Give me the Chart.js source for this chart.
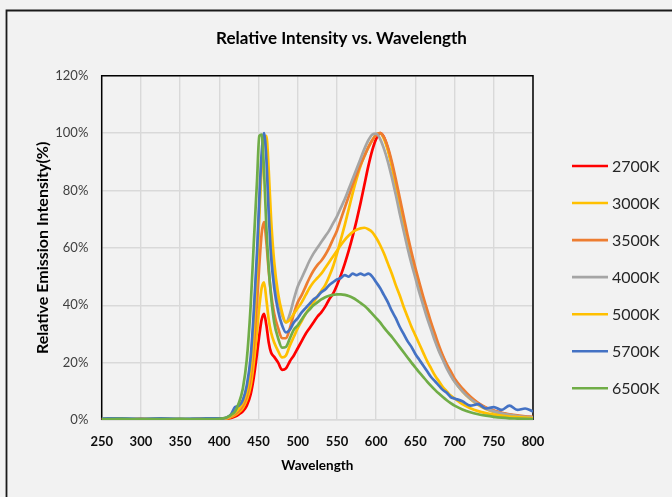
<!DOCTYPE html>
<html>
<head>
<meta charset="utf-8">
<script src="https://cdn.jsdelivr.net/npm/chart.js@4.4.0/dist/chart.umd.min.js"></script>
<style>
  html, body { margin: 0; padding: 0; background: #f2f2f2; }
  #wrap { width: 672px; height: 497px; }
</style>
</head>
<body>
<div id="wrap"><canvas id="spectrum" width="672" height="497"></canvas></div>
<script>
// shared wavelength grid (nm)
const wavelengths = [
  250, 275, 300, 325, 350, 375, 400,
  405, 410, 415, 420, 425, 430, 435, 440, 444, 448, 451, 454, 457, 460, 463, 466, 470, 475, 480, 485, 490, 495,
  500, 505, 510, 515, 520, 525, 530, 535, 540, 545, 550, 555, 560, 565, 570, 575, 580, 585, 590, 595,
  600, 605, 610, 615, 620, 625, 630, 635, 640, 645, 650, 655, 660, 665, 670, 675, 680, 685, 690, 695, 700,
  710, 720, 730, 740, 750, 760, 770, 780, 790, 800
];

// relative intensity (%) per CCT
const cct2700 = [
  0.2, 0.2, 0.3, 0.2, 0.2, 0.3, 0.2,
  0.2, 0.4, 0.7, 1.2, 2, 3, 5, 9, 15, 23, 29.5, 35, 37, 33, 27, 23.5, 22, 20, 17.5, 18, 20.5, 22.5,
  25, 27.5, 30, 32, 34, 36, 37.5, 39.5, 42, 44, 47, 50.5, 54.5, 59, 64, 69.5, 75.5, 82, 88.5, 94,
  98, 100, 98.5, 94.5, 89, 82.5, 75.5, 69, 62.5, 57, 52, 47, 42, 37.5, 33, 29, 25, 22, 19, 16.5, 14,
  10.5, 7.8, 5.8, 4.2, 3.2, 2.4, 1.8, 1.4, 1.1, 0.9
];
const cct3000 = [
  0.2, 0.3, 0.2, 0.3, 0.2, 0.2, 0.3,
  0.3, 0.5, 1, 1.7, 2.7, 4.2, 7, 12, 20, 31, 39.5, 46, 48, 42, 35, 30.5, 27, 24, 21.8, 22.5, 26, 29,
  32, 34.5, 37, 39, 41, 43, 45, 47, 50, 53.5, 58, 63, 68, 73.5, 79, 84, 88.5, 92, 95, 97.5,
  99.5, 100, 98, 94, 88.5, 82, 75, 68.5, 62, 56.5, 51.5, 46.5, 41.5, 37, 32.5, 28.5, 24.5, 21.5, 18.5, 16, 13.5,
  10, 7.3, 5.3, 3.8, 2.8, 2, 1.5, 1.1, 0.8, 0.6
];
const cct3500 = [
  0.3, 0.2, 0.3, 0.2, 0.3, 0.2, 0.3,
  0.3, 0.6, 1.2, 2, 3.2, 5, 8.5, 15, 26, 41, 54, 65, 69, 62, 52, 44, 37, 32, 28.5, 28.5, 32, 37,
  41, 43.5, 46.5, 49.5, 52, 54, 55.5, 57.5, 60, 63, 66, 70, 74, 78, 82, 85.5, 89, 92, 95, 97.5,
  99.3, 100, 98.5, 95, 90, 84, 77.5, 71, 64.5, 58.5, 53, 48, 43, 38.5, 34, 30, 26, 22.5, 19.5, 17, 14.5,
  11, 8.2, 6, 4.4, 3.3, 2.5, 2, 1.6, 1.3, 1.1
];
const cct4000 = [
  0.3, 0.3, 0.2, 0.3, 0.3, 0.2, 0.3,
  0.4, 0.8, 1.5, 2.8, 4.5, 6.5, 11, 20, 35, 55, 74, 90, 98, 95, 80, 64, 51, 42, 36.5, 34, 37, 42,
  46.5, 49.5, 52.5, 55.5, 58, 60, 62, 64, 66, 68.5, 71, 74, 77, 80.5, 84, 87.5, 91, 94.5, 97.5, 99.5,
  99.8, 98, 94.5, 90, 84.5, 78.5, 72, 66, 60, 54.5, 49.5, 44.5, 40, 35.5, 31.5, 27.5, 24, 21, 18, 15.5, 13.3,
  10, 7.4, 5.5, 4, 3, 2.3, 1.8, 1.4, 1.1, 0.9
];
const cct5000 = [
  0.3, 0.2, 0.3, 0.3, 0.2, 0.3, 0.3,
  0.4, 0.8, 1.5, 2.6, 4, 6, 10, 18, 32, 52, 71, 88, 98, 99, 87, 70, 55, 44, 37.5, 34, 35, 37,
  39, 41, 43.5, 46, 48, 49.5, 51, 53, 55, 57, 59, 61, 62.8, 64.3, 65.5, 66.3, 66.8, 67, 66.5, 65.5,
  63.5, 61, 58, 54.5, 51, 47, 43.5, 39.5, 36, 32.5, 29.5, 26.5, 23.5, 20.5, 18, 15.5, 13.5, 11.5, 10, 8.5, 7.5,
  5.5, 4.1, 3.1, 2.4, 1.9, 1.5, 1.2, 1, 0.8, 0.6
];
const cct5700 = [
  0.5, 0.6, 0.4, 0.6, 0.4, 0.5, 0.6,
  0.6, 1, 2, 4.5, 5, 7, 12, 22, 38, 58, 77, 93, 100, 91, 72, 57, 46, 38, 33, 30.5, 31.5, 34,
  35.5, 37.5, 39, 40.5, 42, 43, 44.5, 45.5, 47, 48, 49, 49.5, 50.5, 50, 51, 50.5, 51, 50.5, 51, 50,
  48, 46, 43.5, 41, 38, 35.5, 32.5, 30, 27.5, 25.5, 23, 21, 19, 17, 15, 13.5, 12, 10.5, 9.5, 8, 7.5,
  6.5, 5, 5.5, 4, 4.5, 3.5, 5, 3.5, 4, 3
];
const cct6500 = [
  0.3, 0.4, 0.3, 0.3, 0.4, 0.3, 0.4,
  0.6, 1, 1.8, 3, 6, 11, 21, 40, 62, 83, 99, 99.5, 87, 67, 53, 43, 34, 28.5, 25.2, 25.5, 28.5, 31.5,
  33, 35, 37, 38.5, 40, 41, 42, 42.8, 43.3, 43.6, 43.8, 43.8, 43.6, 43.2, 42.6, 41.8, 40.8, 39.8, 38.5, 37,
  35.5, 34, 32.2, 30.5, 29, 27.2, 25.4, 23.6, 21.8, 20, 18.3, 16.6, 15, 13.4, 11.9, 10.5, 9.2, 8, 6.9, 5.9, 5,
  3.7, 2.7, 2, 1.5, 1.1, 0.8, 0.6, 0.5, 0.4, 0.3
];

const seriesLabels = ['2700K', '3000K', '3500K', '4000K', '5000K', '5700K', '6500K'];
const seriesValues = [cct2700, cct3000, cct3500, cct4000, cct5000, cct5700, cct6500];
const seriesColors = ['#ff0000', '#ffc000', '#ed7d31', '#a5a5a5', '#ffc000', '#4472c4', '#70ad47'];

const xMin = 250, xMax = 800, xStep = 50;
const yMin = 0, yMax = 120, yStep = 20;

const FONT = 'Lato';

// background + outer frame, title, plot frame and legend
const decor = {
  id: 'decor',
  beforeDraw(chart) {
    const ctx = chart.ctx;
    ctx.save();
    ctx.fillStyle = '#f2f2f2';
    ctx.fillRect(0, 0, chart.width, chart.height);
    ctx.strokeStyle = '#1a1a1a';
    ctx.lineWidth = 1.8;
    ctx.beginPath();
    ctx.moveTo(6.5, chart.height + 2);
    ctx.lineTo(6.5, 10.5);
    ctx.lineTo(chart.width + 2, 10.5);
    ctx.stroke();

    ctx.fillStyle = '#000';
    ctx.font = 'bold 17px ' + FONT;
    ctx.textAlign = 'center';
    ctx.textBaseline = 'middle';
    ctx.fillText('Relative Intensity vs. Wavelength', 341.5, 39);
    ctx.restore();
  },
  beforeDatasetsDraw(chart) {
    const {ctx, chartArea: a} = chart;
    ctx.save();
    ctx.strokeStyle = '#000';
    ctx.lineWidth = 1.5;
    ctx.beginPath();
    ctx.moveTo(a.left, a.bottom);
    ctx.lineTo(a.left, a.top);
    ctx.lineTo(a.right, a.top);
    ctx.lineTo(a.right, a.bottom);
    ctx.stroke();
    ctx.restore();
  },
  afterDraw(chart) {
    const ctx = chart.ctx;
    ctx.save();
    ctx.font = '16px ' + FONT;
    ctx.textAlign = 'left';
    ctx.textBaseline = 'middle';
    seriesLabels.forEach((lab, i) => {
      const y = 166 + i * 37.05;
      ctx.strokeStyle = seriesColors[i];
      ctx.lineWidth = 2.6;
      ctx.beginPath();
      ctx.moveTo(572, y);
      ctx.lineTo(608, y);
      ctx.stroke();
      ctx.fillStyle = '#262626';
      ctx.fillText(lab, 612, y + 1);
    });
    ctx.restore();
  }
};

new Chart(document.getElementById('spectrum'), {
  type: 'line',
  data: {
    datasets: seriesLabels.map((lab, i) => ({
      label: lab,
      data: wavelengths.map((w, j) => ({x: w, y: seriesValues[i][j]})),
      borderColor: seriesColors[i],
      borderWidth: 2.7,
      pointRadius: 0,
      fill: false,
      cubicInterpolationMode: 'monotone',
      order: seriesLabels.length - i
    }))
  },
  options: {
    responsive: false,
    animation: false,
    layout: { padding: { left: 0, right: 139, top: 75.7, bottom: 0 } },
    plugins: {
      legend: { display: false },
      title: { display: false },
      tooltip: { enabled: false }
    },
    scales: {
      x: {
        type: 'linear',
        min: xMin, max: xMax,
        afterFit(s) { s.height = 77; },
        ticks: {
          stepSize: xStep,
          padding: 14,
          color: '#0d0d0d',
          font: { family: FONT, size: 13, weight: 'bold' }
        },
        grid: { color: '#d9d9d9', lineWidth: 1.4, drawTicks: false },
        border: { color: '#d9d9d9', width: 1.4 },
        title: {
          display: true,
          text: 'Wavelength',
          color: '#000',
          font: { family: FONT, size: 13.5, weight: 'bold' },
          padding: { top: 0, bottom: 23 }
        }
      },
      y: {
        min: yMin, max: yMax,
        afterFit(s) { s.width = 101.7; },
        ticks: {
          stepSize: yStep,
          padding: 13.4,
          color: '#404040',
          font: { family: FONT, size: 13 },
          callback: v => v + '%'
        },
        grid: { color: '#d9d9d9', lineWidth: 1.4, drawTicks: false },
        border: { display: false },
        title: {
          display: true,
          text: 'Relative Emission Intensity(%)',
          color: '#000',
          font: { family: FONT, size: 16, weight: 'bold' },
          padding: { top: 33, bottom: 0 }
        }
      }
    }
  },
  plugins: [decor]
});
</script>
</body>
</html>
